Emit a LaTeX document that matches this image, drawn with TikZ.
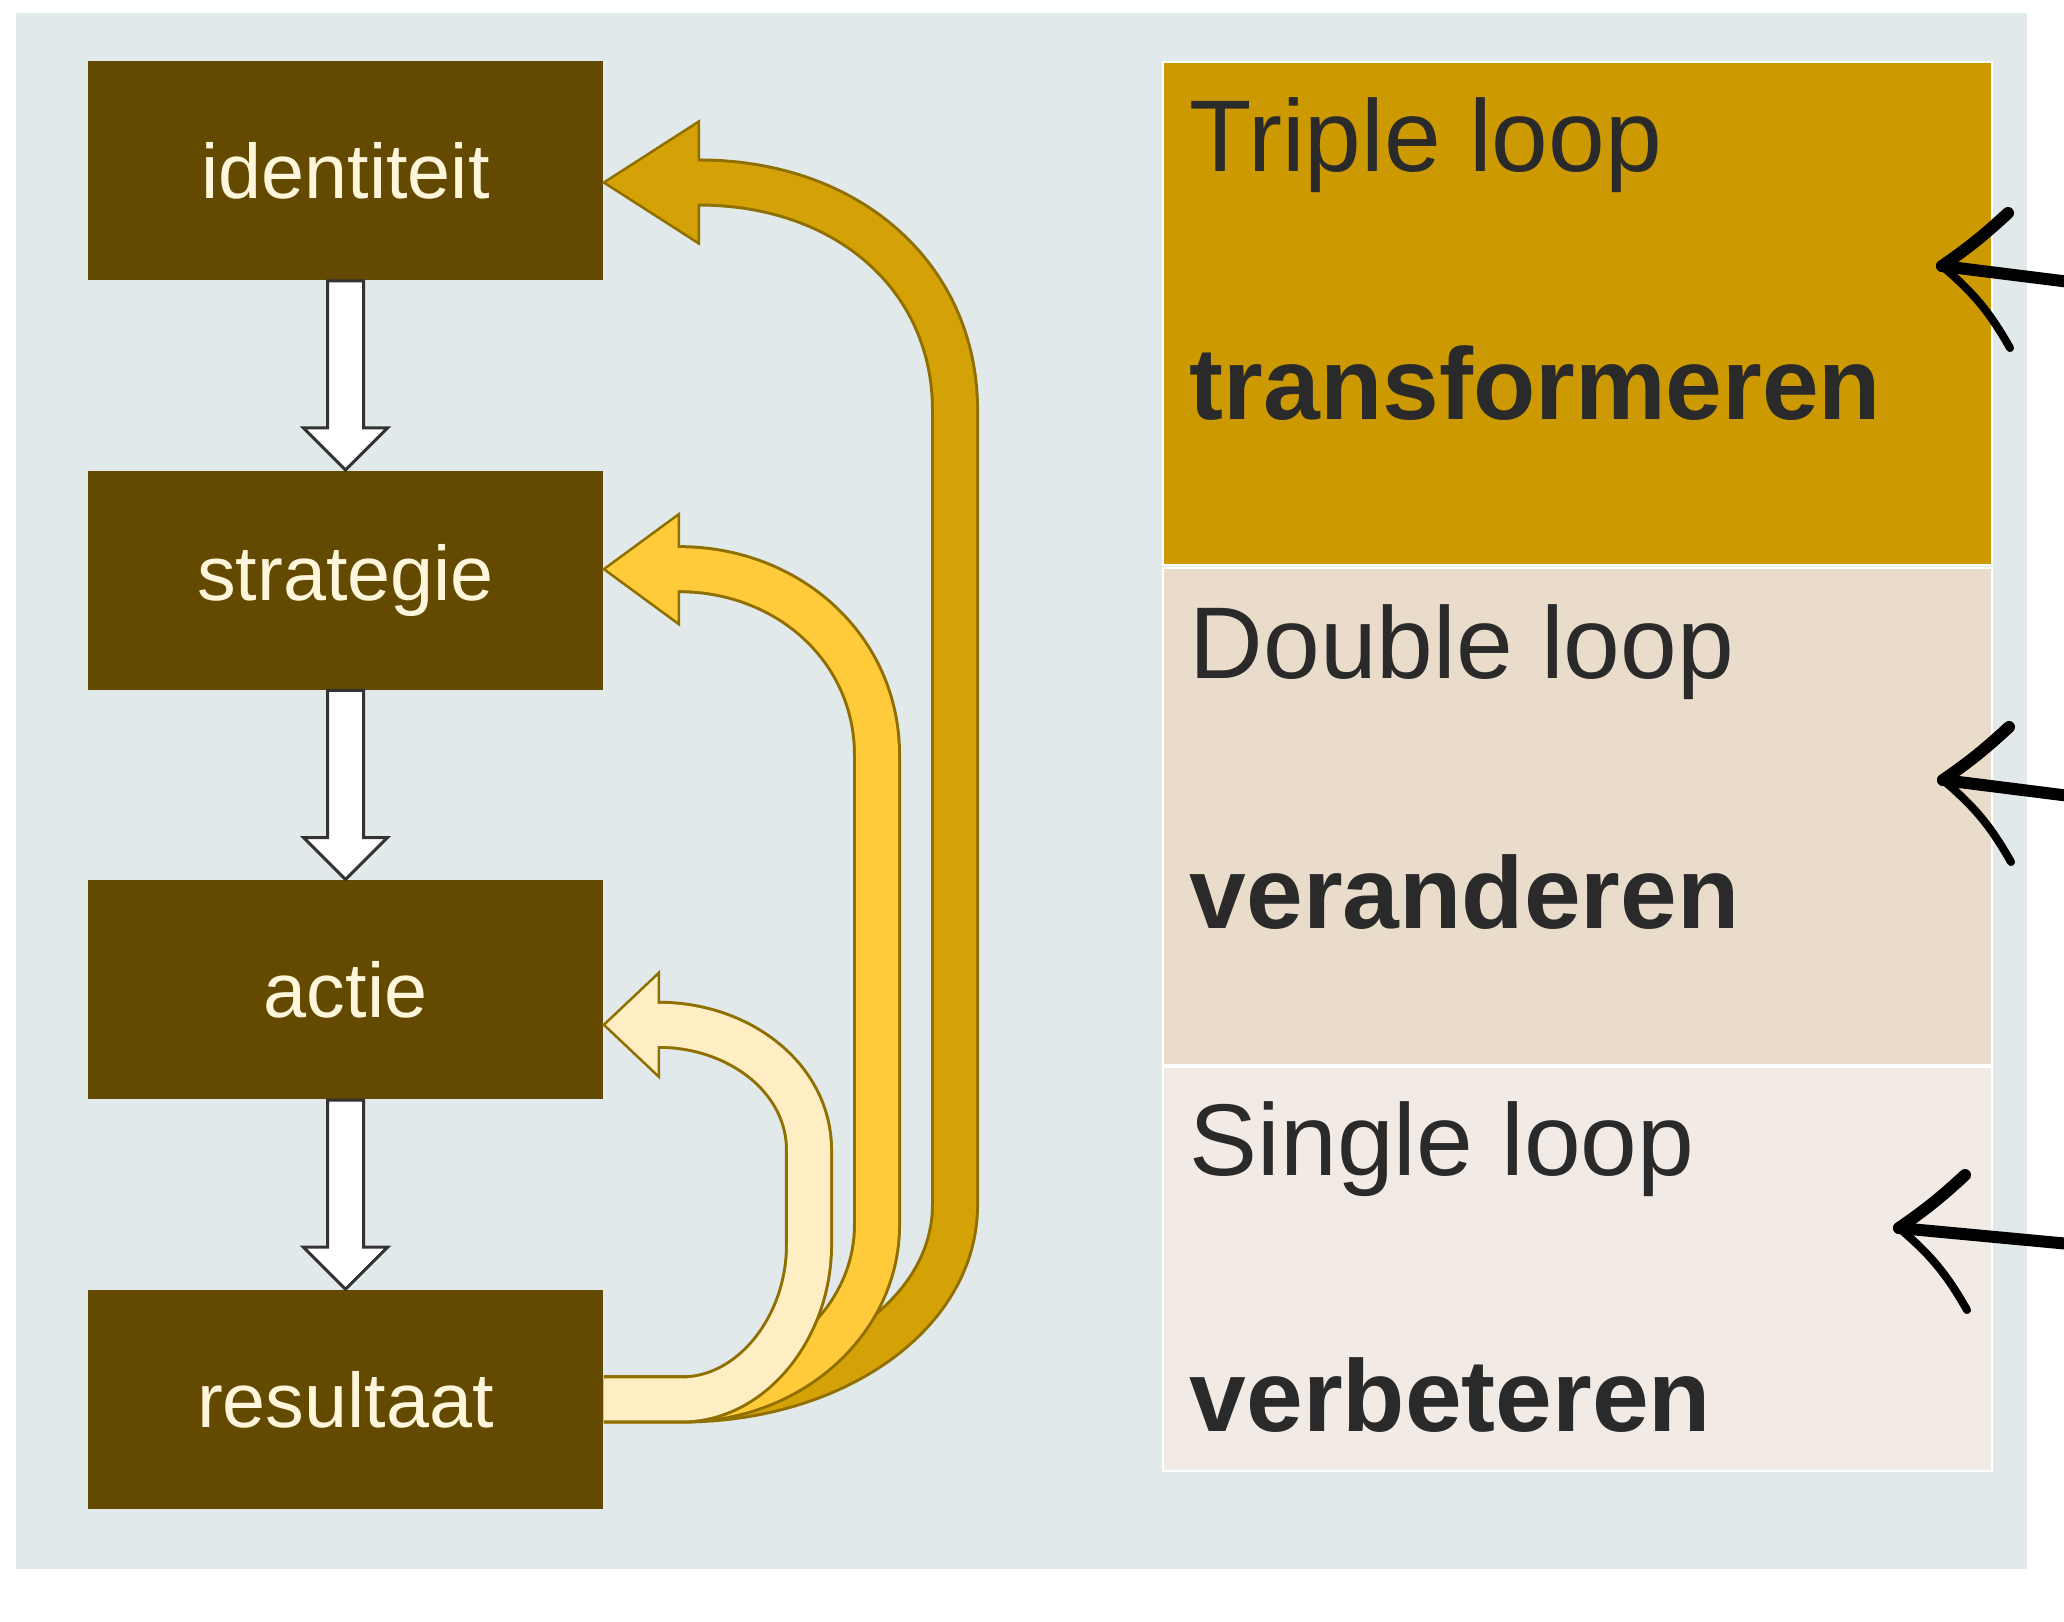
\documentclass[tikz,border=0pt]{standalone}
\usepackage{fontspec}
\setmainfont{Liberation Sans}
\usetikzlibrary{positioning,calc}
\definecolor{panel}{HTML}{E1E9EB}
\definecolor{lvlbrown}{HTML}{634A00}
\definecolor{cream}{HTML}{FFF6DC}
\definecolor{tripfill}{HTML}{CC9900}
\definecolor{dblfill}{HTML}{E9DCCA}
\definecolor{sglfill}{HTML}{F2EBE5}
\definecolor{txt}{HTML}{2A2A2A}
\definecolor{lpline}{HTML}{8F6F00}
\definecolor{lpthree}{HTML}{D4A106}
\definecolor{lptwo}{HTML}{FFCB3A}
\definecolor{lpone}{HTML}{FFEEC4}
\tikzset{
  lvl/.style={fill=lvlbrown,text=cream,minimum width=5.15cm,minimum height=2.19cm,inner sep=0pt,font=\fontsize{22}{26}\selectfont},
  band/.style={draw=white,line width=0.02cm,anchor=north west,minimum width=8.28cm,inner sep=0pt},
  lbl/.style={anchor=base west,inner sep=0pt,text=txt,font=\fontsize{29}{34}\selectfont},
  key/.style={lbl,font=\fontsize{29}{34}\selectfont\bfseries},
  dnarr/.style={draw=black!80,fill=white,line width=0.03cm},
  loopout/.style={draw=lpline,line width=0.48cm},
  loopin/.style={line width=0.42cm},
  hand/.style={draw=black,line width=0.12cm,line cap=round,line join=round},
}
% white arrow from box #1 down to box #2
\newcommand{\dn}[2]{%
  \filldraw[dnarr] ($(#1.south)+(-18,0)$) -- ($(#2.north)+(-18,-42)$) -- ($(#2.north)+(-42,-42)$) -- (#2.north)
    -- ($(#2.north)+(42,-42)$) -- ($(#2.north)+(18,-42)$) -- ($(#1.south)+(18,0)$) -- cycle;}
% loop arrow: fill, tip, head base, half head, path
\newcommand{\lparr}[5]{%
  \draw[loopout] #5;
  \filldraw[draw=lpline,fill=#1,line width=0.025cm] (#2) -- ($(#3)+(0,-#4)$) -- ($(#3)+(0,#4)$) -- cycle;
  \draw[loopin,draw=#1] #5 -- ($(#3)+(-12,0)$);}
% hand drawn pointer: tip, tail
\newcommand{\hnd}[2]{%
  \draw[hand] (#2) -- (#1);
  \draw[hand] (#1) to[bend right=4] ($(#1)+(66,-53)$);
  \draw[hand,line width=0.08cm] (#1) to[bend left=10] ($(#1)+(68,82)$);}

\begin{document}
\begin{tikzpicture}[x=0.01cm,y=-0.01cm]
\fill[white] (0,0) rectangle (2064,1621);
\useasboundingbox (0,0) rectangle (2064,1621);
\fill[panel] (16,13) rectangle (2027,1569);

% loop levels
\node[band,fill=tripfill,minimum height=5.03cm] (trip) at (1162,61) {};
\node[band,fill=dblfill,minimum height=4.97cm] (dbl) at (1162,567) {};
\node[band,fill=sglfill,minimum height=4.04cm] (sgl) at (1162,1066) {};
\node[lbl] (ttrip) at (1189,171) {Triple loop};
\node[key] (ktrip) at (1189,419) {transformeren};
\node[lbl] (tdbl) at (1189,678) {Double loop};
\node[key] (kdbl) at (1189,928) {veranderen};
\node[lbl] (tsgl) at (1189,1175) {Single loop};
\node[key] (ksgl) at (1189,1431) {verbeteren};

% chain
\node[lvl] (idt) at (345.5,170.5) {identiteit};
\node[lvl,below=1.89cm of idt] (str) {strategie};
\node[lvl,below=1.89cm of str] (act) {actie};
\node[lvl,below=1.89cm of act] (res) {resultaat};
\dn{idt}{str}
\dn{str}{act}
\dn{act}{res}

% feedback loops
\coordinate (tT) at ($(idt.east)+(0,12)$);
\coordinate (bT) at ($(tT)+(95,0)$);
\coordinate (tD) at ($(str.east)+(0,-11)$);
\coordinate (bD) at ($(tD)+(75,0)$);
\coordinate (tS) at ($(act.east)+(0,35)$);
\coordinate (bS) at ($(tS)+(55,0)$);
\lparr{lpthree}{tT}{bT}{61}{(res.east) -- ++(78,0) .. controls +(150,0) and +(0,110) .. (955,1205) -- (955,410) .. controls +(0,-132) and +(150,0) .. (bT)}
\lparr{lptwo}{tD}{bD}{55}{(res.east) -- ++(78,0) .. controls +(108,0) and +(0,96) .. (877,1225) -- (877,755) .. controls +(0,-106) and +(110,0) .. (bD)}
\lparr{lpone}{tS}{bS}{52}{(res.east) -- ++(78,0) .. controls +(70,0) and +(0,82) .. (809,1245) -- (809,1150) .. controls +(0,-72) and +(80,0) .. (bS)}

% hand drawn pointers
\coordinate (pT) at (1942,266);
\coordinate (qT) at (2070,282);
\coordinate (pD) at (1943,780);
\coordinate (qD) at (2070,796);
\coordinate (pS) at (1899,1228);
\coordinate (qS) at (2070,1244);
\hnd{pT}{qT}
\hnd{pD}{qD}
\hnd{pS}{qS}
\end{tikzpicture}
\end{document}
